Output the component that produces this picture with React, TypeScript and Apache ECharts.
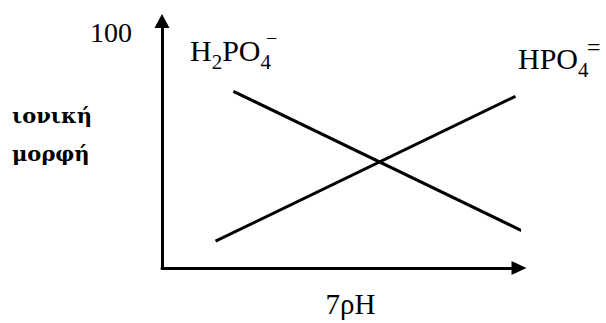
import React, { useEffect, useRef } from 'react';
import * as echarts from 'echarts';

// Data (arbitrary units: x 0..10, y 0..105)
const h2po4X = [2.0, 10.4];
const h2po4Y = [75.1, 13.5];
const hpo4X = [1.5, 9.9];
const hpo4Y = [11.4, 73.0];
const yTickValues = [100];
const yAxisTitle = 'ιονική\nμορφή';
const xAxisName = '7ρH';
const h2po4Name = 'H2PO4-';
const hpo4Name = 'HPO4=';

const FONT = '"Liberation Serif", "DejaVu Serif", serif';
const GREEK_FONT = '"DejaVu Serif", serif';

export default function App() {
  const ref = useRef<HTMLDivElement>(null);
  useEffect(() => {
    if (!ref.current) return;
    const chart = echarts.init(ref.current, undefined, { renderer: 'svg' });
    const h2po4Data = h2po4X.map((x, i) => [x, h2po4Y[i]]);
    const hpo4Data = hpo4X.map((x, i) => [x, hpo4Y[i]]);
    const richMain = { fontSize: 30, lineHeight: 30, verticalAlign: 'top', fontFamily: FONT, color: '#000' };
    const richSub = { fontSize: 21, lineHeight: 21, padding: [16, 0, 0, 0], verticalAlign: 'top', fontFamily: FONT, color: '#000' };
    chart.setOption({
      animation: false,
      backgroundColor: '#ffffff',
      grid: { left: 162, right: 87, top: 21, bottom: 53 },
      xAxis: {
        type: 'value',
        min: 0,
        max: 10,
        axisLine: {
          show: true,
          lineStyle: { color: '#000', width: 3 },
          symbol: ['none', 'triangle'],
          symbolSize: [14, 15],
        },
        axisTick: { show: false },
        axisLabel: { show: false },
        splitLine: { show: false },
        name: xAxisName,
        nameLocation: 'middle',
        nameGap: 21,
        nameTextStyle: {
          fontFamily: FONT,
          fontSize: 29,
          color: '#000',
          padding: [0, 0, 0, 20],
        },
      },
      yAxis: {
        type: 'value',
        min: 0,
        max: 105,
        interval: 100,
        axisLine: {
          show: true,
          lineStyle: { color: '#000', width: 3 },
          symbol: ['none', 'triangle'],
          symbolSize: [15, 14],
        },
        axisTick: { show: false },
        splitLine: { show: false },
        axisLabel: {
          margin: 30,
          fontFamily: FONT,
          fontSize: 28,
          color: '#000',
          formatter: (v: number) => (yTickValues.includes(v) ? String(v) : ''),
        },
      },
      series: [
        {
          name: h2po4Name,
          type: 'line',
          data: h2po4Data,
          showSymbol: false,
          clip: false,
          silent: true,
          lineStyle: { color: '#000', width: 3 },
        },
        {
          name: hpo4Name,
          type: 'line',
          data: hpo4Data,
          showSymbol: false,
          clip: false,
          silent: true,
          lineStyle: { color: '#000', width: 3 },
        },
      ],
      graphic: [
        {
          type: 'text',
          left: 12,
          top: 96,
          style: {
            text: yAxisTitle,
            fontFamily: GREEK_FONT,
            fontWeight: 'bold',
            fontSize: 21,
            lineHeight: 38,
            fill: '#000',
          },
        },
        {
          type: 'text',
          left: 190,
          top: 35,
          style: {
            text: '{m|H}{s|2}{m|PO}{s|4}',
            rich: { m: richMain, s: richSub },
          },
        },
        {
          type: 'text',
          x: 266,
          y: 38,
          style: { text: '−', fontSize: 20, fontFamily: FONT, fill: '#000', verticalAlign: 'middle' },
        },
        {
          type: 'text',
          x: 587,
          y: 47,
          style: { text: '=', fontSize: 24, fontFamily: FONT, fill: '#000', verticalAlign: 'middle' },
        },
        {
          type: 'text',
          left: 518,
          top: 43,
          style: {
            text: '{m|HPO}{s|4}',
            rich: { m: richMain, s: richSub },
          },
        },
      ],
    });
    return () => chart.dispose();
  }, []);
  return (
    <div
      ref={ref}
      style={{ position: 'fixed', left: 0, top: 0, width: 606, height: 323, background: '#fff' }}
    />
  );
}
